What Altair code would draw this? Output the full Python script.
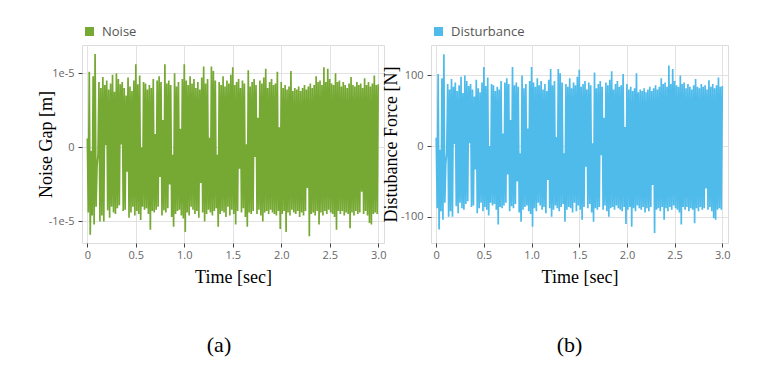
import altair as alt
import pandas as pd

# ---- data ----
time_step = 0.01  # sampling of the traces [sec]
sample_count = 301

x_ticks = [0, 0.5, 1.0, 1.5, 2.0, 2.5, 3.0]
noise_ticks = [-1e-5, 0, 1e-5]
dist_ticks = [-100, 0, 100]

# Noise gap, in micrometres (1e-5 m = 10 um)
noise_um = [
    1.2, -8.8, 10.2, -11.8, -0.5, -9.2, 9.6, -10.4, 12.6, -8.0,
    -2.5, -1.0, 8.8, -10.0, 8.0, -9.2, 9.5, -10.0, 8.4, 0.3,
    9.0, -8.5, 7.8, -9.5, 8.6, -8.0, 9.8, -8.8, 7.5, -9.0,
    10.0, -8.2, 9.2, -7.8, 8.5, 0.4, 8.8, -8.6, 8.0, -8.4,
    7.0, -3.3, 9.4, -9.5, 8.2, -8.8, 7.6, -8.0, 9.0, -9.2,
    11.2, -8.6, 8.5, -9.0, 9.7, -9.8, 0.0, -8.0, 8.8, -8.4,
    8.6, -8.2, 7.8, -9.0, 8.4, -11.1, 8.0, -8.6, 9.2, -8.8,
    1.8, -8.4, 9.0, -8.0, 9.6, -4.0, 8.8, -9.2, 3.7, -8.5,
    11.2, -8.8, 8.6, -8.2, 9.0, -5.0, 8.4, -9.4, -1.0, -10.7,
    10.0, -9.0, 8.2, -8.6, 8.8, -8.4, 2.5, -9.2, 9.2, -9.6,
    11.2, -11.4, 9.0, -8.8, 8.4, -9.2, 9.6, -8.0, 8.6, -8.4,
    9.2, -9.0, 8.0, -8.6, 8.8, -9.5, 7.8, -4.8, 9.4, -8.8,
    10.9, -10.0, 8.6, -9.0, 9.2, -8.4, 1.3, -8.8, 10.9, -9.2,
    10.3, -8.6, 9.0, -8.2, -1.0, -10.7, 8.8, -9.0, 8.4, -8.6,
    9.6, -8.8, 8.2, -9.4, 9.0, -8.0, 8.6, -9.2, 9.8, -8.4,
    10.8, -9.0, 8.4, -10.4, 8.8, -8.6, 9.2, -2.9, 8.0, -8.8,
    9.0, -8.2, 8.6, -9.4, 0.4, -10.7, 10.4, -8.8, 8.2, -9.0,
    8.8, -8.6, 9.2, -1.3, 8.4, -9.0, 4.0, -8.4, 9.0, -9.2,
    8.6, -10.0, 9.4, -8.8, 10.6, -8.6, 8.0, -9.0, 8.8, -8.4,
    9.2, -8.8, 8.4, -9.0, 8.6, -9.2, 10.2, -8.6, 2.7, -11.0,
    8.8, -9.0, 8.0, -8.6, 8.4, -11.4, 7.8, -8.8, 8.2, -9.2,
    10.3, -8.4, 7.6, -8.8, 8.0, -9.0, 7.8, -8.6, 8.2, -9.4,
    7.6, -8.8, 8.0, -9.2, 8.4, -8.6, 7.8, -5.5, 8.2, -12.0,
    8.6, -9.0, 8.0, -8.8, 8.4, -9.2, 9.6, -8.6, 8.8, -10.4,
    9.0, -8.8, 8.4, -9.2, 10.8, -8.6, 8.8, -9.0, 10.6, -8.4,
    9.2, -8.8, 8.6, -9.0, 8.4, -9.4, 10.0, -11.1, 8.8, -8.6,
    9.0, -9.0, 8.2, -8.6, 8.8, -9.2, 8.4, -8.8, 8.0, -9.0,
    8.6, -10.9, 9.5, -8.8, 8.4, -9.2, 8.2, -8.6, 8.8, -9.0,
    8.4, -8.8, 8.6, -6.0, 8.0, -9.0, 9.3, -8.6, 8.4, -9.2,
    8.8, -10.2, 8.2, -10.4, 8.6, -9.0, 9.7, -8.8, 8.4, -9.0,
    8.5,
]

# Disturbance force [N]
disturbance_n = [
    12, -88, 102, -118, -5, -92, 96, -104, 130, -80,
    -25, -10, 88, -100, 80, -92, 95, -100, 84, 3,
    90, -85, 78, -95, 86, -80, 98, -88, 75, -90,
    100, -82, 92, -78, 85, 4, 88, -86, 80, -84,
    70, -33, 94, -95, 82, -88, 76, -80, 90, -92,
    112, -86, 85, -90, 97, -98, 0, -80, 88, -84,
    86, -82, 78, -90, 84, -111, 80, -86, 92, -88,
    18, -84, 90, -80, 96, -40, 88, -92, 37, -85,
    112, -88, 86, -82, 90, -50, 84, -94, -10, -107,
    100, -90, 82, -86, 88, -84, 25, -92, 92, -96,
    112, -114, 90, -88, 84, -92, 96, -80, 86, -84,
    92, -90, 80, -86, 88, -95, 78, -48, 94, -88,
    109, -100, 86, -90, 92, -84, 13, -88, 109, -92,
    103, -86, 90, -82, -10, -107, 88, -90, 84, -86,
    96, -88, 82, -94, 90, -80, 86, -92, 98, -84,
    108, -90, 84, -104, 88, -86, 92, -29, 80, -88,
    90, -82, 86, -94, 4, -107, 104, -88, 82, -90,
    88, -86, 92, -13, 84, -90, 40, -84, 90, -92,
    86, -100, 94, -88, 106, -86, 80, -90, 88, -84,
    92, -88, 84, -90, 86, -92, 102, -86, 27, -110,
    88, -90, 80, -86, 84, -114, 78, -88, 82, -92,
    103, -84, 76, -88, 80, -90, 78, -86, 82, -94,
    76, -88, 80, -92, 84, -86, 78, -55, 82, -123,
    86, -90, 80, -88, 84, -92, 96, -86, 88, -104,
    90, -88, 84, -92, 114, -86, 88, -90, 109, -84,
    92, -88, 86, -90, 84, -94, 100, -111, 88, -86,
    90, -90, 82, -86, 88, -92, 84, -88, 80, -90,
    86, -109, 95, -88, 84, -92, 82, -86, 88, -90,
    84, -88, 86, -60, 80, -90, 93, -86, 84, -92,
    88, -102, 82, -104, 86, -90, 97, -88, 84, -90,
    85,
]

GREEN = "#76A933"
BLUE = "#4FBBEB"

times = [round(i * time_step, 2) for i in range(sample_count)]

noise_df = pd.DataFrame({"t": times, "v": [u * 1e-6 for u in noise_um], "series": "Noise"})
dist_df = pd.DataFrame({"t": times, "v": disturbance_n, "series": "Disturbance"})

x_label_expr = "datum.value == 0 ? '0' : format(datum.value, '.1f')"
noise_label_expr = ("datum.value == 0 ? '0' : (datum.value < 0 ? '-' + format(-datum.value, '.0e') "
                    ": format(datum.value, '.0e'))")
dist_label_expr = "datum.value < 0 ? '-' + format(-datum.value, 'd') : format(datum.value, 'd')"

AXIS_STYLE = dict(
    labelFont="Open Sans", labelFontSize=11, labelColor="#666",
    titleFont="Liberation Serif", titleFontSize=18, titleFontWeight="normal", titleColor="#000",
    tickColor="#444", tickSize=4, domain=False, gridColor="#e2e2e2", gridWidth=1,
    labelFlush=False, labelOverlap=False,
)


def panel(df, name, color, ytitle, ydomain, yticks, ylabel_expr, width, title_x, caption, cap_dx):
    x_axis = alt.Axis(values=x_ticks, labelExpr=x_label_expr, title="Time [sec]",
                      labelPadding=2, titlePadding=8, **AXIS_STYLE)
    y_axis = alt.Axis(values=yticks, labelExpr=ylabel_expr, title=ytitle, titleX=title_x,
                      labelPadding=4, **AXIS_STYLE)
    legend = alt.Legend(title=None, orient="none", legendX=1, legendY=-20,
                        symbolType="square", symbolSize=81, symbolFillColor=color,
                        symbolStrokeColor=color, symbolStrokeWidth=0,
                        labelFont="Open Sans", labelFontSize=13, labelColor="#555",
                        labelOffset=6)
    return alt.Chart(df).mark_line(strokeWidth=1.7).encode(
        x=alt.X("t:Q", scale=alt.Scale(domain=[-0.055, 3.06], nice=False, zero=False), axis=x_axis),
        y=alt.Y("v:Q", scale=alt.Scale(domain=ydomain, nice=False, zero=False), axis=y_axis),
        color=alt.Color("series:N", scale=alt.Scale(domain=[name], range=[color]), legend=legend),
    ).properties(
        width=width, height=198,
        title=alt.TitleParams(caption, orient="bottom", anchor="middle", frame="group",
                              font="Liberation Serif", fontSize=22, fontWeight="normal",
                              color="#000", offset=49, dx=cap_dx),
    )


left = panel(noise_df, "Noise", GREEN, "Noise Gap [m]", [-1.29e-5, 1.38e-5], noise_ticks,
             noise_label_expr, 302, -27, "(a)", -14)
right = panel(dist_df, "Disturbance", BLUE, "Distubance Force [N]", [-137, 143], dist_ticks,
              dist_label_expr, 297, -31, "(b)", -10)

chart = alt.hconcat(left, right, spacing=-6).resolve_scale(
    x="independent", y="independent", color="independent"
).resolve_legend(color="independent").properties(
    padding={"left": 28, "top": 16, "right": 5, "bottom": 5}
).configure_view(
    stroke="#555", strokeWidth=2
).configure(background="white")

chart.save("out.html", embed_options={"renderer": "svg", "actions": False})
